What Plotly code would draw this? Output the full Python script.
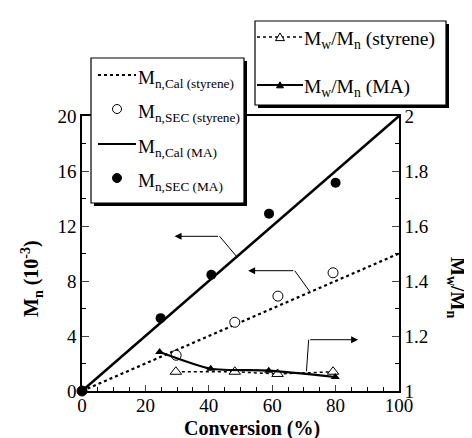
import plotly.graph_objects as go

# ---- data ----
conv_cal = [0, 100]
mn_cal_styrene = [0, 10]
mn_cal_ma = [0, 20]

conv_sec_styrene = [0, 29.7, 48.2, 61.8, 79.2]
mn_sec_styrene = [0, 2.6, 5.0, 6.9, 8.6]

conv_sec_ma = [0, 24.8, 40.8, 59.0, 80.0]
mn_sec_ma = [0, 5.3, 8.45, 12.9, 15.15]

conv_pdi_styrene = [29.6, 48.2, 61.7, 79.2]
pdi_styrene = [1.07, 1.07, 1.062, 1.07]

conv_pdi_ma = [24.5, 40.6, 58.9, 79.9]
pdi_ma = [1.142, 1.081, 1.074, 1.051]

legend1_labels = ["M<sub>n,Cal (styrene)</sub>", "M<sub>n,SEC (styrene)</sub>",
                  "M<sub>n,Cal (MA)</sub>", "M<sub>n,SEC (MA)</sub>"]
legend2_labels = ["M<sub>w</sub>/M<sub>n</sub> (styrene)", "M<sub>w</sub>/M<sub>n</sub> (MA)"]

FONT = "Liberation Serif"

# plot area in pixels (for placing legend boxes in paper coords)
L, R, T, B = 74, 391, 108, 383
def px(xp):
    return (xp - L) / (R - L)
def py(yp):
    return (B - yp) / (B - T)

fig = go.Figure()

fig.add_trace(go.Scatter(x=conv_cal, y=mn_cal_styrene, mode="lines",
                         line=dict(color="black", width=2.2, dash="dot"),
                         name=legend1_labels[0], showlegend=False))
fig.add_trace(go.Scatter(x=conv_sec_styrene, y=mn_sec_styrene, mode="markers",
                         marker=dict(symbol="circle", size=10, color="white",
                                     line=dict(color="black", width=1)),
                         name=legend1_labels[1], showlegend=False, cliponaxis=False))
fig.add_trace(go.Scatter(x=conv_cal, y=mn_cal_ma, mode="lines",
                         line=dict(color="black", width=2.5),
                         name=legend1_labels[2], showlegend=False))
fig.add_trace(go.Scatter(x=conv_sec_ma, y=mn_sec_ma, mode="markers",
                         marker=dict(symbol="circle", size=10, color="black"),
                         name=legend1_labels[3], showlegend=False, cliponaxis=False))
fig.add_trace(go.Scatter(x=conv_pdi_styrene, y=pdi_styrene, mode="lines+markers", yaxis="y2",
                         line=dict(color="black", width=1.5, dash="dot"),
                         marker=dict(symbol="triangle-up", size=10, color="white",
                                     line=dict(color="black", width=1)),
                         name=legend2_labels[0], showlegend=False))
fig.add_trace(go.Scatter(x=conv_pdi_ma, y=pdi_ma, mode="lines+markers", yaxis="y2",
                         line=dict(color="black", width=2.2, shape="spline", smoothing=0.6),
                         marker=dict(symbol="triangle-up", size=8, color="black"),
                         name=legend2_labels[1], showlegend=False))

annotations = []
shapes = []

# pointer arrows (data coords)
arrows = [((43.4, 11.25), (29.2, 11.25), (48.7, 9.8)),
          ((67.1, 8.75), (52.4, 8.75), (71.8, 7.25)),
          ((71.5, 3.73), (87.1, 3.73), (70.8, 1.43))]
for tail, head, foot in arrows:
    annotations.append(dict(x=head[0], y=head[1], ax=tail[0], ay=tail[1], xref="x", yref="y",
                            axref="x", ayref="y", text="", showarrow=True, arrowhead=2,
                            arrowsize=1.4, arrowwidth=1, arrowcolor="black"))
    shapes.append(dict(type="line", xref="x", yref="y", x0=tail[0], y0=tail[1],
                       x1=foot[0], y1=foot[1], line=dict(color="black", width=1)))

# axis titles
annotations.append(dict(text="<b>M<sub>n</sub> (10<sup>-3</sup>)</b>", xref="paper", yref="paper",
                        x=px(24), y=py(271), xanchor="center", yanchor="middle",
                        textangle=-90, showarrow=False,
                        font=dict(family=FONT, size=20, color="black")))
annotations.append(dict(text="<b>M<sub>w</sub>/M<sub>n</sub></b>", xref="paper", yref="paper",
                        x=px(449), y=py(279), xanchor="center", yanchor="middle",
                        textangle=90, showarrow=False,
                        font=dict(family=FONT, size=20, color="black")))
annotations.append(dict(text="<b>Conversion (%)</b>", xref="paper", yref="paper",
                        x=px(244), y=py(420), xanchor="center", yanchor="middle",
                        showarrow=False, font=dict(family=FONT, size=20, color="black")))

# ---- legend boxes (drawn by hand, with drop shadow) ----
def legend_box(x0, y0, x1, y1):
    shapes.append(dict(type="rect", xref="paper", yref="paper", x0=px(x0 + 3), x1=px(x1 + 3),
                       y0=py(y1 + 3), y1=py(y0 + 3), fillcolor="black",
                       line=dict(width=0), layer="above"))
    shapes.append(dict(type="rect", xref="paper", yref="paper", x0=px(x0), x1=px(x1),
                       y0=py(y1), y1=py(y0), fillcolor="white",
                       line=dict(color="black", width=1.2), layer="above"))

legend_box(83, 50, 236, 195)
legend_box(247, 13, 438, 97)

def sample_line(x0, x1, yc, dash, width):
    shapes.append(dict(type="line", xref="paper", yref="paper", x0=px(x0), x1=px(x1),
                       y0=py(yc), y1=py(yc), line=dict(color="black", width=width, dash=dash),
                       layer="above"))

def sample_circle(xc, yc, r, fill):
    shapes.append(dict(type="circle", xref="paper", yref="paper", x0=px(xc - r), x1=px(xc + r),
                       y0=py(yc + r), y1=py(yc - r), fillcolor=fill,
                       line=dict(color="black", width=1), layer="above"))

def sample_triangle(xc, yc, s, fill):
    pts = [(xc - s, yc + s * 0.8), (xc + s, yc + s * 0.8), (xc, yc - s * 0.9)]
    path = "M {} {} L {} {} L {} {} Z".format(*[v for p in pts for v in (px(p[0]), py(p[1]))])
    shapes.append(dict(type="path", xref="paper", yref="paper", path=path, fillcolor=fill,
                       line=dict(color="black", width=1), layer="above"))

rows1 = [67, 101, 136, 170]
sample_line(90, 128, rows1[0], "dot", 1.8)
sample_circle(109, rows1[1], 4.5, "white")
sample_line(90, 128, rows1[2], "solid", 2.2)
sample_circle(109, rows1[3], 4.5, "black")
for yc, lab in zip(rows1, legend1_labels):
    annotations.append(dict(text=lab, xref="paper", yref="paper", x=px(128), y=py(yc + 4),
                            xanchor="left", yanchor="middle", showarrow=False,
                            font=dict(family=FONT, size=19, color="black")))

rows2 = [29, 77]
sample_line(249, 295, rows2[0], "dot", 1.3)
sample_triangle(272, rows2[0], 4.5, "white")
sample_line(249, 295, rows2[1], "solid", 2.0)
sample_triangle(272, rows2[1], 3.5, "black")
for yc, lab in zip(rows2, legend2_labels):
    annotations.append(dict(text=lab, xref="paper", yref="paper", x=px(294), y=py(yc + 3),
                            xanchor="left", yanchor="middle", showarrow=False,
                            font=dict(family=FONT, size=19.5, color="black")))

fig.update_layout(
    width=472, height=438,
    margin=dict(l=L, r=472 - R, t=T, b=438 - B),
    paper_bgcolor="white", plot_bgcolor="white",
    font=dict(family=FONT, size=19, color="black"),
    showlegend=False,
    xaxis=dict(range=[0, 100], dtick=20, ticks="inside", ticklen=6, tickwidth=1,
               tickfont=dict(family=FONT, size=19, color="black"), ticklabelstandoff=-4,
               minor=dict(dtick=5, ticks="inside", ticklen=4, tickcolor="black"),
               showline=True, linecolor="black", linewidth=1.5, mirror=True,
               showgrid=False, zeroline=False),
    yaxis=dict(range=[0, 20], dtick=4, ticks="inside", ticklen=7, tickwidth=1,
               tickfont=dict(family=FONT, size=19, color="black"),
               minor=dict(dtick=2, ticks="inside", ticklen=4, tickcolor="black"),
               showline=True, linecolor="black", linewidth=1.5,
               showgrid=False, zeroline=False),
    yaxis2=dict(range=[1, 2], dtick=0.2, overlaying="y", side="right", ticks="inside",
                ticklen=7, tickwidth=1,
                tickfont=dict(family=FONT, size=19, color="black"),
                minor=dict(dtick=0.1, ticks="inside", ticklen=4, tickcolor="black"),
                showline=True, linecolor="black", linewidth=1.5,
                showgrid=False, zeroline=False),
    annotations=annotations,
    shapes=shapes,
)

fig.write_html("out.html")
